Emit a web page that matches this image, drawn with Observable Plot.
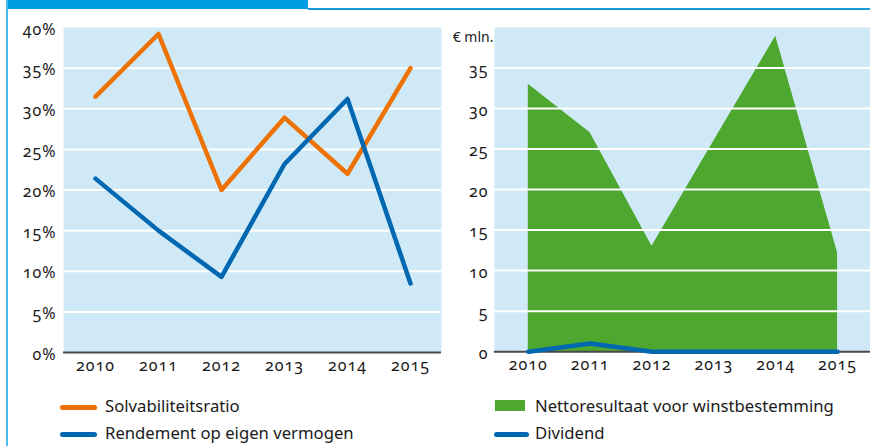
<!DOCTYPE html>
<html><head><meta charset="utf-8">
<script src="https://cdn.jsdelivr.net/npm/d3@7"></script>
<script src="https://cdn.jsdelivr.net/npm/@observablehq/plot@0.6"></script>
<style>
html,body{margin:0;padding:0;background:#fff;width:870px;height:446px;overflow:hidden;font-family:"Noto Sans",sans-serif;}
#page{position:relative;width:870px;height:446px;overflow:hidden;}
.abs{position:absolute;}
svg text{font-variant-numeric:oldstyle-nums;fill:#1a1a1a;}
.leg{position:absolute;font-size:16.7px;color:#1a1a1a;white-space:nowrap;line-height:20px;}
.sw{position:absolute;}
</style>
</head><body>
<div id="page">
  <div class="abs" style="left:6px;top:0;width:302px;height:9px;background:#009fe3"></div>
  <div class="abs" style="left:308px;top:8px;width:562px;height:2px;background:#1a9bd7"></div>
  <div class="abs" style="left:6px;top:0;width:2px;height:446px;background:#4dbbea"></div>
  <div id="left" class="abs" style="left:0;top:0"></div>
  <div id="right" class="abs" style="left:440px;top:0"></div>
  <div id="legend"></div>
</div>
<script>
const years = [2010, 2011, 2012, 2013, 2014, 2015];
const solvabiliteitsratio = [31.5, 39.2, 20.0, 28.9, 22.0, 35.0];
const rendement = [21.4, 15.0, 9.3, 23.2, 31.2, 8.5];
const nettoresultaat = [33.0, 27.0, 13.0, 26.0, 38.9, 12.2];
const dividend = [0, 1.0, 0, 0, 0, 0];
const pctTicks = [0, 5, 10, 15, 20, 25, 30, 35, 40];
const mlnTicks = [0, 5, 10, 15, 20, 25, 30, 35];
const unitLabel = "€ mln.";
const seriesLeft = ["Solvabiliteitsratio", "Rendement op eigen vermogen"];
const seriesRight = ["Nettoresultaat voor winstbestemming", "Dividend"];

const colOrange = "#ee7203", colBlue = "#0067b1", colGreen = "#4ea72e", colBg = "#cfe9f7", colBase = "#4a4a4a";

const rows = (vals) => years.map((y, i) => ({year: y, v: vals[i]}));

const common = {
  height: 380, marginTop: 27, marginBottom: 28,
  style: {fontFamily: "Noto Sans", fontSize: "16px", color: "#1a1a1a", background: "transparent", overflow: "visible"}
};

const left = Plot.plot({
  ...common,
  width: 445, marginLeft: 63, marginRight: 4,
  x: {type: "point", domain: years, padding: 0.5},
  y: {domain: [0, 40]},
  marks: [
    Plot.frame({fill: colBg, stroke: null}),
    Plot.ruleY(pctTicks.filter(d => d > 0 && d < 40), {stroke: "#fff", strokeWidth: 2}),
    Plot.ruleY([0], {stroke: colBase, strokeWidth: 2}),
    Plot.axisX({tickSize: 0, tickPadding: 7, tickFormat: d => String(d), label: null, fontSize: 16}),
    Plot.axisY({ticks: pctTicks, tickSize: 0, tickPadding: 7, tickFormat: d => d + "%", label: null, dy: 2, fontSize: 16}),
    Plot.line(rows(solvabiliteitsratio), {x: "year", y: "v", stroke: colOrange, strokeWidth: 4.5}),
    Plot.line(rows(rendement), {x: "year", y: "v", stroke: colBlue, strokeWidth: 4.5})
  ]
});
document.getElementById("left").appendChild(left);

const right = Plot.plot({
  ...common,
  width: 431, marginLeft: 54, marginRight: 0,
  x: {type: "point", domain: years, padding: 0.5},
  y: {domain: [0, 40]},
  marks: [
    Plot.frame({fill: colBg, stroke: null}),
    Plot.areaY(rows(nettoresultaat), {x: "year", y: "v", fill: colGreen}),
    Plot.ruleY(mlnTicks.filter(d => d > 0), {stroke: "#fff", strokeWidth: 2}),
    Plot.ruleY([0], {stroke: colBase, strokeWidth: 2}),
    Plot.axisX({tickSize: 0, tickPadding: 7, tickFormat: d => String(d), label: null, fontSize: 16}),
    Plot.axisY({ticks: mlnTicks, tickSize: 0, tickPadding: 6, label: null, dy: 2, fontSize: 16}),
    Plot.text([unitLabel], {frameAnchor: "top-left", textAnchor: "end", dx: -1, dy: 5, fontSize: 14}),
    Plot.line(rows(dividend), {x: "year", y: "v", stroke: colBlue, strokeWidth: 4.5})
  ]
});
document.getElementById("right").appendChild(right);

// widen the tick numerals a little, like the original typeface
d3.selectAll("#left svg text, #right svg text")
  .style("letter-spacing", function() { return this.textContent === unitLabel ? "0px" : "1px"; });

const leg = document.getElementById("legend");
function addLine(x, y, w, color, label, tx) {
  const s = document.createElement("div");
  s.className = "sw";
  s.style.cssText = `left:${x}px;top:${y - 2.5}px;width:${w}px;height:5px;border-radius:3px;background:${color}`;
  leg.appendChild(s);
  const t = document.createElement("div");
  t.className = "leg";
  t.style.cssText = `left:${tx}px;top:${y - 11}px`;
  t.textContent = label;
  leg.appendChild(t);
}
function addRect(x, y, w, h, color, label, tx, ty) {
  const s = document.createElement("div");
  s.className = "sw";
  s.style.cssText = `left:${x}px;top:${y}px;width:${w}px;height:${h}px;background:${color}`;
  leg.appendChild(s);
  const t = document.createElement("div");
  t.className = "leg";
  t.style.cssText = `left:${tx}px;top:${ty - 11}px`;
  t.textContent = label;
  leg.appendChild(t);
}
addLine(60, 407, 37, colOrange, seriesLeft[0], 105);
addLine(60, 434, 37, colBlue, seriesLeft[1], 105);
addRect(495, 400, 30, 11, colGreen, seriesRight[0], 535, 407);
addLine(494, 434, 35, colBlue, seriesRight[1], 535);
</script>
</body></html>
